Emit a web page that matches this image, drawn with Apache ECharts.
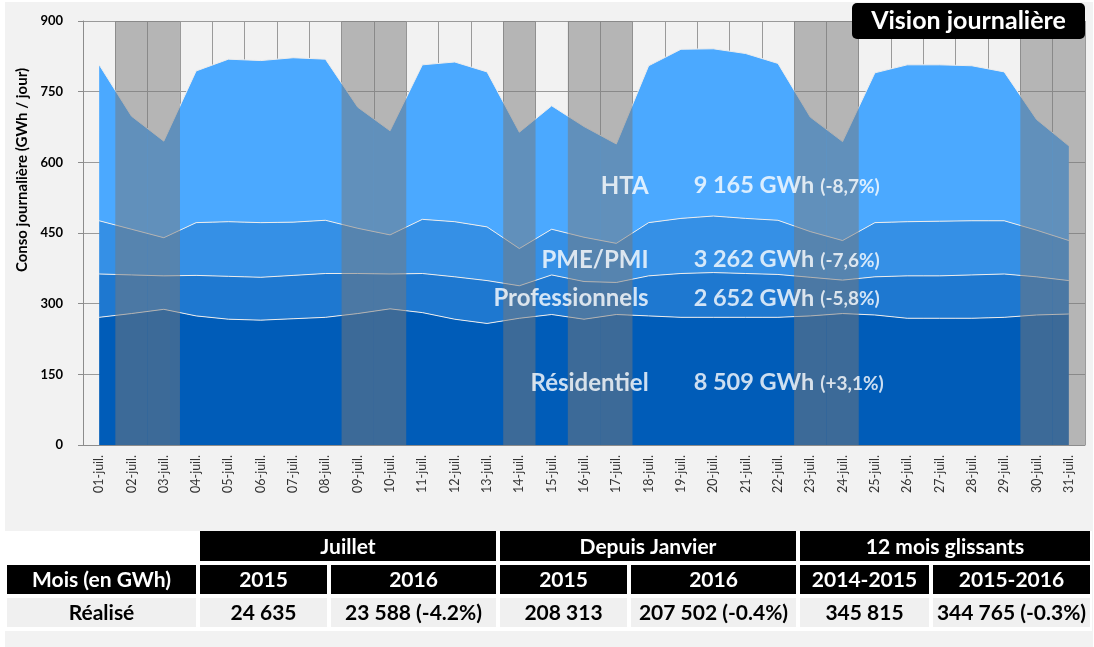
<!DOCTYPE html>
<html>
<head>
<meta charset="utf-8">
<script src="https://cdn.jsdelivr.net/npm/echarts@6/dist/echarts.min.js"></script>
<style>
  html, body { margin: 0; padding: 0; background: #fff; }
  #frame { position: absolute; left: 5px; top: 2px; width: 1088px; height: 645px; background: #f2f2f2; }
  #main { position: absolute; left: 0; top: 0; width: 1094px; height: 647px; }
</style>
</head>
<body>
<div id="frame"></div>
<div id="main"></div>
<script>
// jours de juillet 2016
const days = ['01-juil.', '02-juil.', '03-juil.', '04-juil.', '05-juil.', '06-juil.', '07-juil.', '08-juil.',
  '09-juil.', '10-juil.', '11-juil.', '12-juil.', '13-juil.', '14-juil.', '15-juil.', '16-juil.', '17-juil.',
  '18-juil.', '19-juil.', '20-juil.', '21-juil.', '22-juil.', '23-juil.', '24-juil.', '25-juil.', '26-juil.',
  '27-juil.', '28-juil.', '29-juil.', '30-juil.', '31-juil.'];

// week-ends et jours fériés (bandes grises)
const offDays = ['02-juil.', '03-juil.', '09-juil.', '10-juil.', '14-juil.', '16-juil.', '17-juil.',
  '23-juil.', '24-juil.', '30-juil.', '31-juil.'];

// conso journalière par segment (GWh), empilée
const residentiel = [271, 279, 288, 274, 267, 265, 268, 271, 279, 289, 281, 267, 258, 269, 277, 267,
  277, 274, 271, 271, 271, 271, 274, 279, 276, 269, 269, 269, 271, 276, 278];
const professionnels = [92, 82, 71, 86, 91, 91, 92, 93, 85, 74, 83, 90, 91, 69, 84, 80,
  68, 85, 93, 95, 93, 91, 82, 71, 81, 90, 90, 92, 92, 81, 71];
const pmePmi = [113, 97, 81, 112, 116, 116, 113, 113, 96, 83, 115, 117, 114, 79, 97, 94,
  83, 113, 117, 120, 117, 115, 97, 84, 115, 115, 116, 115, 113, 99, 85];
const hta = [331, 240, 205, 322, 345, 344, 349, 342, 257, 221, 328, 339, 329, 247, 262, 235,
  211, 333, 359, 355, 350, 333, 243, 210, 318, 333, 332, 329, 316, 235, 201];

// totaux du mois
const segmentNames = ['HTA', 'PME/PMI', 'Professionnels', 'Résidentiel'];
const segmentTotals = ['9 165 GWh', '3 262 GWh', '2 652 GWh', '8 509 GWh'];
const segmentChanges = ['(-8,7%)', '(-7,6%)', '(-5,8%)', '(+3,1%)'];

// tableau
const tableGroups = ['Juillet', 'Depuis Janvier', '12 mois glissants'];
const tableYears = ['2015', '2016', '2015', '2016', '2014-2015', '2015-2016'];
const tableRealise = ['24 635', '23 588 (-4.2%)', '208 313', '207 502 (-0.4%)', '345 815', '344 765 (-0.3%)'];
const tableRowHeader = 'Mois (en GWh)';
const tableRowLabel = 'Réalisé';

const yTicks = { min: 0, max: 900, interval: 150 };
const FONT = 'Lato';

const chart = echarts.init(document.getElementById('main'));

const lineWhite = { color: '#ececec', width: 1 };
function areaSeries(name, data, color) {
  return {
    name: name,
    type: 'line',
    stack: 'conso',
    data: data,
    symbol: 'none',
    lineStyle: lineWhite,
    areaStyle: { color: color, opacity: 1 },
    z: 2
  };
}

// points d'ancrage des libellés (jour, valeur)
const labelDay = days.indexOf('18-juil.');
const labelValues = [550, 393, 312, 132];
const labelData = [];
segmentNames.forEach(function (n, i) {
  labelData.push({
    value: [labelDay, labelValues[i]],
    label: { position: 'left', distance: 0, formatter: n, fontSize: 24 }
  });
  labelData.push({
    value: [labelDay, labelValues[i]],
    label: {
      position: 'right', distance: 45,
      formatter: '{v|' + segmentTotals[i] + '} {p|' + segmentChanges[i] + '}'
    }
  });
});

// tableau en graphic
const colX = [[7, 196], [200, 327], [331, 496], [500, 627], [631, 796], [800, 929], [933, 1090]];
const rowY = [[531, 561], [565, 594], [598, 627]];
const tableFont = 'bold 21px ' + FONT;
const g = [];
function cell(x0, x1, y0, y1, fill, text, color) {
  g.push({ type: 'rect', shape: { x: x0, y: y0, width: x1 - x0, height: y1 - y0 }, style: { fill: fill }, silent: true, z: 10 });
  g.push({
    type: 'text', x: (x0 + x1) / 2, y: (y0 + y1) / 2 + 1, silent: true, z: 11,
    style: { text: text, fill: color, font: tableFont, align: 'center', verticalAlign: 'middle', textAlign: 'center', textVerticalAlign: 'middle' }
  });
}
g.push({ type: 'rect', shape: { x: 5, y: 531, width: 1087, height: 100 }, style: { fill: '#ffffff' }, silent: true, z: 9 });
tableGroups.forEach(function (t, i) {
  cell(colX[1 + 2 * i][0], colX[2 + 2 * i][1], rowY[0][0], rowY[0][1], '#000', t, '#fff');
});
cell(colX[0][0], colX[0][1], rowY[1][0], rowY[1][1], '#000', tableRowHeader, '#fff');
cell(colX[0][0], colX[0][1], rowY[2][0], rowY[2][1], '#f0f0f0', tableRowLabel, '#000');
tableYears.forEach(function (t, i) {
  cell(colX[i + 1][0], colX[i + 1][1], rowY[1][0], rowY[1][1], '#000', t, '#fff');
  cell(colX[i + 1][0], colX[i + 1][1], rowY[2][0], rowY[2][1], '#f0f0f0', tableRealise[i], '#000');
});

// cartouche titre
g.push({ type: 'rect', shape: { x: 852, y: 3, width: 233, height: 36, r: 5 }, style: { fill: '#000' }, z: 10, silent: true });
g.push({
  type: 'text', x: 968.5, y: 21, z: 11, silent: true,
  style: { text: 'Vision journalière', fill: '#fff', font: 'bold 25px ' + FONT, align: 'center', verticalAlign: 'middle', textAlign: 'center', textVerticalAlign: 'middle' }
});
// titre axe y
g.push({
  type: 'text', x: 22, y: 170, rotation: Math.PI / 2, z: 11, silent: true,
  style: { text: 'Conso journalière (GWh / jour)', fill: '#000', font: 'bold 15px ' + FONT, align: 'center', verticalAlign: 'middle', textAlign: 'center', textVerticalAlign: 'middle' }
});

chart.setOption({
  animation: false,
  backgroundColor: 'transparent',
  textStyle: { fontFamily: FONT },
  grid: { left: 83, right: 9, top: 21, bottom: 202, containLabel: false },
  xAxis: {
    type: 'category',
    data: days,
    boundaryGap: true,
    axisLine: { lineStyle: { color: '#8c8c8c' } },
    axisTick: { interval: 0, length: 4, lineStyle: { color: '#8c8c8c' } },
    axisLabel: { interval: 0, rotate: 90, margin: 10, fontSize: 12.5, color: '#333', fontFamily: FONT },
    splitLine: { show: true, interval: 0, lineStyle: { color: '#9a9a9a', width: 1 } }
  },
  yAxis: {
    type: 'value',
    min: yTicks.min, max: yTicks.max, interval: yTicks.interval,
    axisLine: { show: true, lineStyle: { color: '#8c8c8c' } },
    axisTick: { show: true, length: 5, lineStyle: { color: '#8c8c8c' } },
    axisLabel: { margin: 20, fontSize: 13, fontWeight: 'bold', color: '#000', fontFamily: FONT },
    splitLine: { show: true, lineStyle: { color: '#9a9a9a', width: 1 } }
  },
  series: [
    areaSeries('Résidentiel', residentiel, '#005cb8'),
    areaSeries('Professionnels', professionnels, '#1e78d0'),
    areaSeries('PME/PMI', pmePmi, '#3590e6'),
    areaSeries('HTA', hta, '#4ba9ff'),
    {
      name: 'off',
      type: 'bar',
      data: days.map(function (d) { return offDays.indexOf(d) >= 0 ? yTicks.max : '-'; }),
      barWidth: '100%',
      itemStyle: { color: 'rgba(120,120,120,0.5)' },
      silent: true,
      z: 3
    },
    {
      name: 'labels',
      type: 'scatter',
      symbolSize: 0,
      silent: true,
      z: 5,
      data: labelData,
      label: {
        show: true,
        color: '#fff',
        fontWeight: 'bold',
        fontFamily: FONT,
        rich: {
          v: { fontSize: 23.5, fontWeight: 'bold', color: '#fff', fontFamily: FONT },
          p: { fontSize: 19, fontWeight: 'bold', color: '#fff', fontFamily: FONT, padding: [2, 0, 0, 3] }
        }
      }
    }
  ],
  graphic: g
});
</script>
</body>
</html>
